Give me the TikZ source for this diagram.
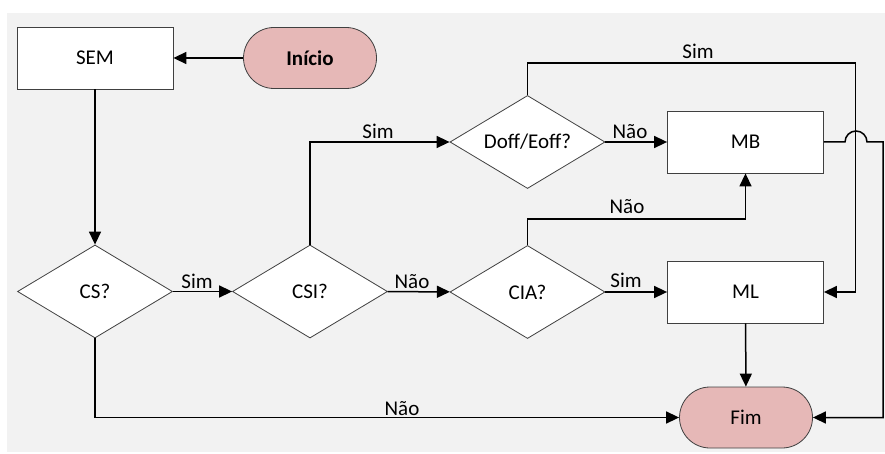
\documentclass[tikz,border=0pt]{standalone}
\usepackage{fontspec}
\setmainfont{Carlito}
\usetikzlibrary{shapes.geometric,shapes.misc,arrows.meta}
\definecolor{bggray}{HTML}{F2F2F2}
\definecolor{termfill}{HTML}{E6B8B7}
\definecolor{edgegray}{HTML}{404040}
\tikzset{
  every node/.style={font=\fontsize{21}{25}\selectfont},
  procbox/.style={rectangle, draw=edgegray, line width=0.8pt, fill=white, minimum width=156pt, minimum height=62pt, inner sep=0pt},
  termbox/.style={rounded rectangle, draw=edgegray, line width=0.8pt, fill=termfill, minimum width=133pt, minimum height=61pt, inner sep=0pt},
  decbox/.style={diamond, draw=edgegray, line width=0.8pt, fill=white, aspect=1.667, minimum width=155pt, minimum height=93pt, inner sep=0pt},
  conn/.style={line width=1.5pt, -{Triangle[length=13pt,width=12pt]}},
  lab/.style={anchor=base, inner sep=0pt}
}
\begin{document}
\begin{tikzpicture}[x=1pt,y=1pt]
\useasboundingbox (0,0) rectangle (885,-454);
\fill[bggray] (7,-13) rectangle (885,-452);
% nodes
\node[procbox] (sem) at (95,-58) {SEM};
\node[termbox] (inicio) at (310,-58) {\bfseries Início};
\node[decbox] (cs) at (95,-291.5) {CS?};
\node[decbox] (csi) at (310,-291.5) {CSI?};
\node[decbox] (cia) at (527.5,-292) {CIA?};
\node[decbox] (doff) at (527.5,-142) {Doff/Eoff?};
\node[procbox] (mb) at (745.5,-142) {MB};
\node[procbox] (ml) at (745.5,-292) {ML};
\node[termbox] (fim) at (746,-417.5) {Fim};
% helper coordinates
\coordinate (ciaturn) at (527.5,-219);
\coordinate (topright) at (855.5,-63);
\coordinate (jumpa) at (845,-142);
\coordinate (farright) at (883,-142);
% connectors
\draw[conn] (inicio) -- (sem);
\draw[conn] (sem) -- (cs);
\draw[conn] (cs) -- (csi);
\draw[conn] (csi) -- (cia);
\draw[conn] (cia) -- (ml);
\draw[conn] (doff) -- (mb);
\draw[conn] (ml) -- (fim);
\draw[conn] (cs.south) |- (fim.west);
\draw[conn] (csi.north) |- (doff.west);
\draw[conn] (cia.north) -- (ciaturn) -| (mb.south);
\draw[conn] (doff.north) |- (topright) |- (ml.east);
\draw[conn] (mb.east) -- (jumpa) arc[start angle=180, end angle=0, radius=11pt] -- (farright) |- (fim.east);
% labels
\node[lab] (l1) at (197,-288) {Sim};
\node[lab] (l2) at (412,-288) {Não};
\node[lab] (l3) at (626,-287) {Sim};
\node[lab] (l4) at (630,-139) {Não};
\node[lab] (l5) at (378,-139) {Sim};
\node[lab] (l6) at (627,-214) {Não};
\node[lab] (l7) at (698,-59) {Sim};
\node[lab] (l8) at (402,-415) {Não};
\end{tikzpicture}
\end{document}
